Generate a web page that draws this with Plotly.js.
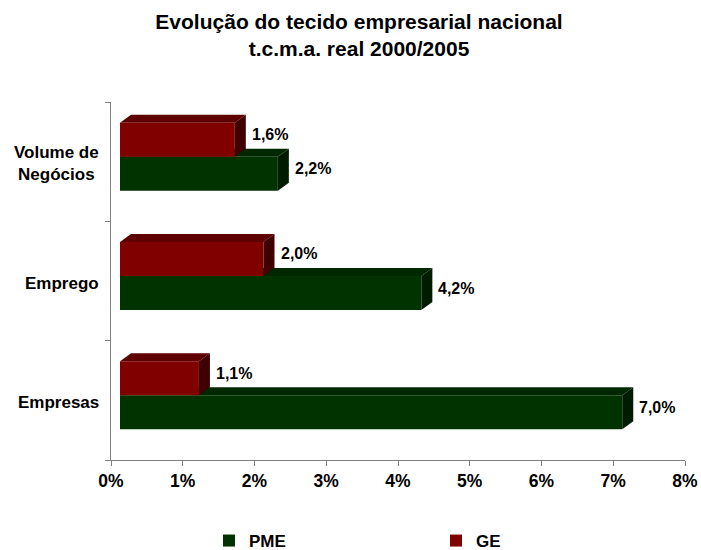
<!DOCTYPE html>
<html>
<head>
<meta charset="utf-8">
<script src="https://cdn.plot.ly/plotly-3.0.1.min.js"></script>
<style>body{margin:0;background:#fff}</style>
</head>
<body>
<div id="chart" style="width:701px;height:550px"></div>
<script>
// ---- data ----
const categories = ['Empresas', 'Emprego', 'Volume de<br>Negócios'];
const seriesNames = ['PME', 'GE'];
const pmeValues = [7.0, 4.2, 2.2];
const geValues = [1.1, 2.0, 1.6];
const pmeLabels = ['7,0%', '4,2%', '2,2%'];
const geLabels = ['1,1%', '2,0%', '1,6%'];
const xTickVals = [0, 1, 2, 3, 4, 5, 6, 7, 8];
const xTickText = ['0%', '1%', '2%', '3%', '4%', '5%', '6%', '7%', '8%'];
const titleText = 'Evolução do tecido empresarial nacional<br>t.c.m.a. real 2000/2005';

// ---- style / geometry ----
const W = 701, H = 550;
const M = {l: 111, r: 7, t: 97, b: 90};
const plotW = W - M.l - M.r;   // 583
const plotH = H - M.t - M.b;   // 363
const axisW = 574, axisH = 358; // visible axis lengths (px)
const shiftX = 9, shiftY = 5;   // 3D front face offset
const depthX = 11, depthY = 8;  // 3D depth (px)
const xMax = 8;
const barW = 0.285;
const ddx = depthX * xMax / axisW;
const ddy = depthY * categories.length / axisH;
const FONT = 'Liberation Sans, Arial, sans-serif';
const colors = {
  PME: {front: '#003300', top: '#002800', side: '#001c00'},
  GE:  {front: '#800000', top: '#5e0000', side: '#3e0000'}
};

const idx = categories.map((c, i) => i);
const series = [
  {name: seriesNames[0], values: pmeValues, labels: pmeLabels, offset: -barW},
  {name: seriesNames[1], values: geValues, labels: geLabels, offset: 0}
];

const traces = series.map(s => ({
  type: 'bar',
  orientation: 'h',
  name: s.name,
  x: s.values,
  y: idx,
  width: barW,
  offset: s.offset,
  xaxis: 'x2',
  yaxis: 'y2',
  marker: {color: colors[s.name].front, line: {width: 0}},
  hoverinfo: 'skip'
}));

const shapes = [];
const annotations = [];
series.forEach(s => {
  s.values.forEach((v, i) => {
    const yb = i + s.offset, yt = yb + barW;
    shapes.push({
      type: 'path', xref: 'x2', yref: 'y2', layer: 'below',
      path: `M0,${yt} L${v},${yt} L${v + ddx},${yt + ddy} L${ddx},${yt + ddy} Z`,
      fillcolor: colors[s.name].top, line: {width: 0}
    });
    shapes.push({
      type: 'path', xref: 'x2', yref: 'y2', layer: 'below',
      path: `M${v},${yb} L${v},${yt} L${v + ddx},${yt + ddy} L${v + ddx},${yb + ddy} Z`,
      fillcolor: colors[s.name].side, line: {width: 0}
    });
    annotations.push({
      xref: 'x2', yref: 'y2', x: v, y: yb + barW / 2,
      text: s.labels[i], showarrow: false, xanchor: 'left', yanchor: 'middle',
      xshift: 15, yshift: 5,
      font: {family: FONT, size: 16, weight: 'bold', color: '#000'}
    });
  });
});
categories.forEach((c, i) => {
  annotations.push({
    xref: 'paper', yref: 'y', x: 0, y: i,
    text: c, showarrow: false, xanchor: 'right', yanchor: 'middle', align: 'center',
    xshift: -10, yshift: -2,
    font: {family: FONT, size: 17, weight: 'bold', color: '#000'}
  });
});

const layout = {
  width: W, height: H,
  margin: M,
  paper_bgcolor: '#fff',
  plot_bgcolor: 'rgba(0,0,0,0)',
  title: {
    text: titleText,
    x: 359 / W, xref: 'container', xanchor: 'center',
    y: 1 - 29 / H, yref: 'container', yanchor: 'top',
    font: {family: FONT, size: 21, weight: 'bold', color: '#000'}
  },
  barmode: 'overlay',
  showlegend: true,
  legend: {
    orientation: 'h', xref: 'container', yref: 'container',
    x: 209 / W, xanchor: 'left', y: 9 / H, yanchor: 'middle',
    entrywidth: 182,
    font: {family: FONT, size: 17, weight: 'bold', color: '#000'},
    traceorder: 'normal'
  },
  xaxis: {
    domain: [0, axisW / plotW], anchor: 'y',
    range: [0, xMax], tickvals: xTickVals, ticktext: xTickText,
    ticks: 'outside', ticklen: 5, tickcolor: '#808080',
    showline: true, linecolor: '#808080', linewidth: 1,
    showgrid: false, zeroline: false, fixedrange: true,
    tickfont: {family: FONT, size: 17.5, weight: 'bold', color: '#000'}
  },
  yaxis: {
    domain: [0, axisH / plotH], anchor: 'x',
    range: [-0.5, categories.length - 0.5],
    tickvals: idx.map(i => i - 0.5).concat([categories.length - 0.5]),
    showticklabels: false,
    ticks: 'outside', ticklen: 5, tickcolor: '#808080',
    showline: true, linecolor: '#808080', linewidth: 1,
    showgrid: false, zeroline: false, fixedrange: true
  },
  xaxis2: {
    domain: [shiftX / plotW, (shiftX + axisW) / plotW], anchor: 'y2',
    range: [0, xMax], visible: false, fixedrange: true
  },
  yaxis2: {
    domain: [shiftY / plotH, (shiftY + axisH) / plotH], anchor: 'x2',
    range: [-0.5, categories.length - 0.5], visible: false, fixedrange: true
  },
  shapes: shapes,
  annotations: annotations
};

Plotly.newPlot('chart', traces, layout, {displayModeBar: false, staticPlot: true});
</script>
</body>
</html>
